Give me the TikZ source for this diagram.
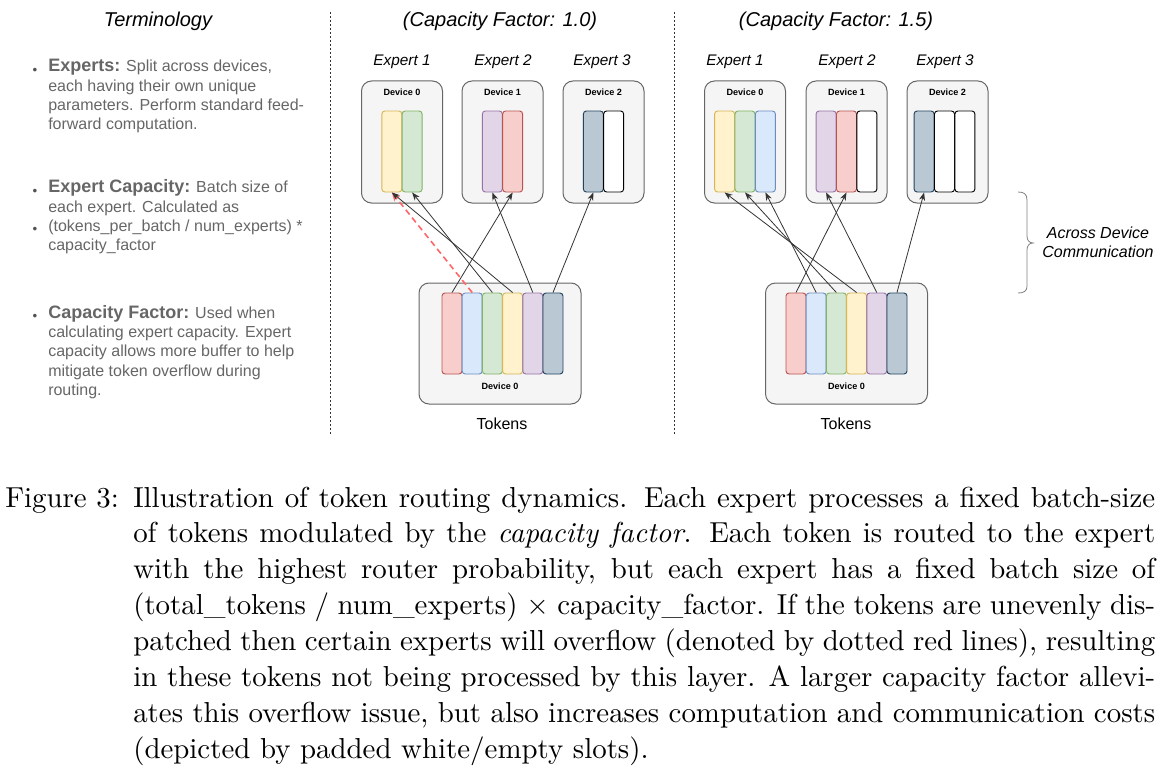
\documentclass[tikz,border=0pt]{standalone}
\usepackage{fontspec}
\setmainfont{lmroman10}[Extension=.otf,UprightFont=*-regular,ItalicFont=*-italic,BoldFont=*-bold]
\newfontfamily\helv{Liberation Sans}
\usetikzlibrary{arrows.meta}

\definecolor{devfill}{HTML}{F5F5F5}
\definecolor{devline}{HTML}{666666}
\definecolor{redF}{HTML}{F8CECC} \definecolor{redD}{HTML}{B85450}
\definecolor{bluF}{HTML}{DAE8FC} \definecolor{bluD}{HTML}{6C8EBF}
\definecolor{grnF}{HTML}{D5E8D4} \definecolor{grnD}{HTML}{82B366}
\definecolor{yelF}{HTML}{FFF2CC} \definecolor{yelD}{HTML}{D6B656}
\definecolor{purF}{HTML}{E1D5E7} \definecolor{purD}{HTML}{9673A6}
\definecolor{sltF}{HTML}{BAC8D3} \definecolor{sltD}{HTML}{23445D}
\definecolor{empF}{HTML}{FFFFFF} \definecolor{empD}{HTML}{000000}
\definecolor{termgray}{HTML}{666666}
\definecolor{linegray}{HTML}{333333}
\definecolor{ovred}{HTML}{FF6666}

\newcommand\termhead[1]{{\fontsize{13.5}{14.5}\selectfont\bfseries #1}}
\newcommand\capfont{\fontsize{21.66}{26.9}\selectfont}

\tikzset{
  device/.style={draw=devline,fill=devfill,line width=0.75pt,rounded corners=7.5pt,
    minimum width=60.75pt,minimum height=91.5pt,inner sep=0pt},
  slot/.style={draw=#1D,fill=#1F,line width=0.7pt,rounded corners=2.25pt,
    minimum width=15pt,minimum height=60.75pt,inner sep=0pt},
  devlabel/.style={font=\helv\bfseries\fontsize{6.8}{8}\selectfont,anchor=base,inner sep=0pt},
  headtext/.style={font=\helv\itshape\fontsize{15}{18}\selectfont,anchor=base,inner sep=0pt},
  explabel/.style={font=\helv\itshape\fontsize{11.5}{14}\selectfont,anchor=base,inner sep=0pt},
  termtext/.style={font=\helv\fontsize{12}{14.5}\selectfont,text=termgray,anchor=base west,inner sep=0pt},
  bullet/.style={font=\helv\fontsize{10}{12}\selectfont,text=termgray!80!black,anchor=base,inner sep=0pt},
  route/.style={draw=linegray,line width=0.6pt,-{Stealth[length=6pt,width=4.5pt]}},
  overflow/.style={draw=ovred,line width=1.2pt,dash pattern=on 4.5pt off 3pt,-{Stealth[length=6.5pt,width=5.5pt]}},
  sep/.style={draw=linegray,line width=0.6pt,dash pattern=on 1.5pt off 1.5pt},
}

\begin{document}
\begin{tikzpicture}[x=0.75pt,y=0.75pt,yscale=-1,xscale=1]
\useasboundingbox (0,0) rectangle (1160,767);

% terminology column
\node[headtext] (termtitle) at (158,26.7) {Terminology};
\node[bullet] (b1) at (35,74.2) {•};
\node[bullet] (b2) at (35,195.2) {•};
\node[bullet] (b3) at (35,233.8) {•};
\node[bullet] (b4) at (35,320.8) {•};
\node[termtext] (item1) at (48,71.7) {\begin{tabular}[t]{@{}l@{}}
\termhead{Experts:} Split across devices,\\
each having their own unique\\
parameters. Perform standard feed-\\
forward computation.\end{tabular}};
\node[termtext] (item2) at (48,192.7) {\begin{tabular}[t]{@{}l@{}}
\termhead{Expert Capacity:} Batch size of\\
each expert. Calculated as\\
(tokens\_per\_batch / num\_experts) *\\
capacity\_factor\end{tabular}};
\node[termtext] (item3) at (48,318.3) {\begin{tabular}[t]{@{}l@{}}
\termhead{Capacity Factor:} Used when\\
calculating expert capacity. Expert\\
capacity allows more buffer to help\\
mitigate token overflow during\\
routing.\end{tabular}};

% separators
\draw[sep] (330,12) -- (330,435);
\draw[sep] (674,12) -- (674,435);

% panel titles
\node[headtext] (cfa) at (500,27) {(Capacity Factor: 1.0)};
\node[headtext] (cfb) at (836,27) {(Capacity Factor: 1.5)};
\node[explabel] (a0-exp) at (402,65) {Expert 1};
\node[explabel] (a1-exp) at (503,65) {Expert 2};
\node[explabel] (a2-exp) at (602,65) {Expert 3};
\node[explabel] (b0-exp) at (735,65) {Expert 1};
\node[explabel] (b1-exp) at (847,65) {Expert 2};
\node[explabel] (b2-exp) at (945,65) {Expert 3};

% device boxes
\foreach \n/\cx/\lab in {a0/402/Device 0,a1/502.5/Device 1,a2/603.5/Device 2,
                         b0/745/Device 0,b1/846.5/Device 1,b2/947.5/Device 2}{
  \node[device] (\n) at (\cx,142) {};
  \node[devlabel] (\n-lab) at (\cx,95.5) {\lab};
}
\node[device,minimum width=121.5pt,minimum height=90.75pt] (atok) at (500,343.5) {};
\node[device,minimum width=121.5pt,minimum height=90.75pt] (btok) at (846.5,343.5) {};
\node[devlabel] (atok-lab) at (500,389) {Device 0};
\node[devlabel] (btok-lab) at (846.5,389) {Device 0};
\node[font=\helv\fontsize{12}{14}\selectfont,anchor=base,inner sep=0pt] (atok-cap) at (502,429) {Tokens};
\node[font=\helv\fontsize{12}{14}\selectfont,anchor=base,inner sep=0pt] (btok-cap) at (846,429) {Tokens};

% expert slots
\foreach \c [count=\i] in {yel,grn} \node[slot=\c] (a0-\i) at ({402+20.3*(\i-1.5)},151.5) {};
\foreach \c [count=\i] in {pur,red} \node[slot=\c] (a1-\i) at ({502.5+20.3*(\i-1.5)},151.5) {};
\foreach \c [count=\i] in {slt,emp} \node[slot=\c] (a2-\i) at ({603.5+20.3*(\i-1.5)},151.5) {};
\foreach \c [count=\i] in {yel,grn,blu} \node[slot=\c] (b0-\i) at ({745+20.4*(\i-2)},151.5) {};
\foreach \c [count=\i] in {pur,red,emp} \node[slot=\c] (b1-\i) at ({846.5+20.4*(\i-2)},151.5) {};
\foreach \c [count=\i] in {slt,emp,emp} \node[slot=\c] (b2-\i) at ({944.5+20.4*(\i-2)},151.5) {};

% token slots
\foreach \c [count=\i] in {red,blu,grn,yel,pur,slt}{
  \node[slot=\c] (at-\i) at ({452+20.2*(\i-1)},333.5) {};
  \node[slot=\c] (bt-\i) at ({796+20.2*(\i-1)},333.5) {};
}

% routing, capacity factor 1.0
\draw[route] (at-1.north) -- (a1-2.south);
\draw[overflow] (at-2.north) -- (a0-1.south);
\draw[route] (at-3.north) -- (a0-2.south);
\draw[route] (at-4.north) -- (a0-1.south);
\draw[route] (at-5.north) -- (a1-1.south);
\draw[route] (at-6.north) -- (a2-1.south);

% routing, capacity factor 1.5
\draw[route] (bt-1.north) -- (b1-2.south);
\draw[route] (bt-2.north) -- (b0-3.south);
\draw[route] (bt-3.north) -- (b0-2.south);
\draw[route] (bt-4.north) -- (b0-1.south);
\draw[route] (bt-5.north) -- (b1-1.south);
\draw[route] (bt-6.north) -- (b2-1.south);

% brace
\draw[draw=gray,line width=0.6pt] (1018,192) .. controls (1024,192) and (1027,194) .. (1027,200)
  -- (1027,236) .. controls (1027,240) and (1029,243) .. (1033,243)
  .. controls (1029,243) and (1027,246) .. (1027,250) -- (1027,286)
  .. controls (1027,291) and (1024,293) .. (1018,293);
\node[explabel,font=\helv\itshape\fontsize{12}{14.5}\selectfont] (comm) at (1098,238)
  {\begin{tabular}[t]{@{}c@{}}Across Device\\Communication\end{tabular}};

% caption
\node[font=\capfont,anchor=base west,inner sep=0pt] (figlabel) at (5,507) {Figure 3:};
\node[font=\capfont,anchor=base west,inner sep=0pt] (caption) at (133,507) {\parbox[t]{766.5pt}{\capfont
Illustration of token routing dynamics. Each expert processes a fixed batch-size\linebreak
of tokens modulated by the \emph{capacity factor}. Each token is routed to the expert\linebreak
with the highest router probability, but each expert has a fixed batch size of\linebreak
(total\_tokens / num\_experts) × capacity\_factor. If the tokens are unevenly dis-\linebreak
patched then certain experts will overflow (denoted by dotted red lines), resulting\linebreak
in these tokens not being processed by this layer. A larger capacity factor allevi-\linebreak
ates this overflow issue, but also increases computation and communication costs\linebreak
(depicted by padded white/empty slots).}};
\end{tikzpicture}
\end{document}
